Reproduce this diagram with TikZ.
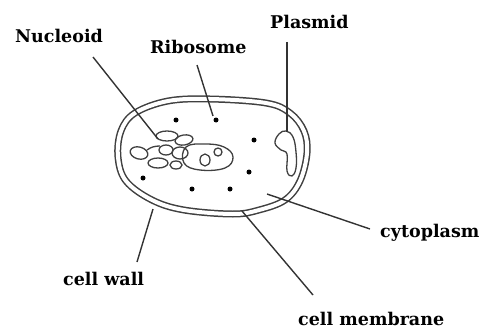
\documentclass[tikz,border=0pt]{standalone}
\usepackage{fontspec}
\newfontfamily\labelfont{DejaVu Serif}
\begin{document}
\begin{tikzpicture}[x=1pt,y=-1pt,
  lbl/.style={anchor=base west,inner sep=0pt,font=\labelfont\bfseries\fontsize{17.5}{17.5}\selectfont},
  leader/.style={draw=black!80,line width=1.4pt},
  envelope/.style={draw=black!75,line width=1.5pt,double=white,double distance=4pt},
  strand/.style={draw=black!75,line width=1.3pt},
  ribo/.style={circle,fill=black,inner sep=0pt,minimum size=5pt}]
\useasboundingbox (0,0) rectangle (489,329);

% cell wall and membrane
\draw[envelope] plot[smooth cycle,tension=0.6] coordinates {
  (135,113) (168,101) (210,99) (266,103) (290,113) (304,131) (307,153)
  (300,181) (285,200) (259,210) (233,214) (184,210) (152,200) (126,181)
  (118,157) (121,131)};

% nucleoid: tangled DNA loops
\draw[strand] (139,153) ellipse[x radius=9,y radius=6,rotate=-15];
\draw[strand] plot[smooth cycle,tension=0.7] coordinates {
  (186,147) (205,144) (224,147) (233,157) (225,168) (200,170) (184,163)};
\draw[strand] (167,136) ellipse[x radius=11,y radius=5];
\draw[strand] (184,140) ellipse[x radius=9,y radius=5,rotate=10];
\draw[strand] (166,150) ellipse[x radius=7,y radius=5];
\draw[strand] (180,153) ellipse[x radius=8,y radius=6];
\draw[strand] (158,163) ellipse[x radius=10,y radius=5];
\draw[strand] (176,165) ellipse[x radius=6,y radius=4];
\draw[strand] (205,160) ellipse[x radius=5,y radius=6];
\draw[strand] (218,152) circle[radius=4];
\draw[strand] (147,150) .. controls (151,147) and (155,146) .. (160,146);

% plasmid
\draw[strand] plot[smooth cycle,tension=0.7] coordinates {
  (279,134) (286,131) (293,137) (296,152) (296,168) (292,176)
  (287,171) (287,154) (281,150) (275,143)};

% ribosomes
\foreach \p/\q [count=\i] in {176/120,216/120,254/140,143/178,249/172,192/189,230/189}
  \node[ribo] (r\i) at (\p,\q) {};

% labels
\node[lbl] (nucleoid) at (15,43) {Nucleoid};
\node[lbl] (ribosome) at (150,53) {Ribosome};
\node[lbl] (plasmid) at (270,29) {Plasmid};
\node[lbl] (cytoplasm) at (380,237) {cytoplasm};
\node[lbl] (wall) at (63,285) {cell wall};
\node[lbl] (membrane) at (298,325) {cell membrane};

% leader line end points
\coordinate (nA) at (93,57);   \coordinate (nB) at (158,139);
\coordinate (rA) at (197,65);  \coordinate (rB) at (213,116);
\coordinate (pA) at (287,42);  \coordinate (pB) at (287,132);
\coordinate (cA) at (370,229); \coordinate (cB) at (267,194);
\coordinate (wA) at (137,262); \coordinate (wB) at (153,209);
\coordinate (mA) at (313,295); \coordinate (mB) at (242,211);

\draw[leader] (nA) -- (nB);
\draw[leader] (rA) -- (rB);
\draw[leader] (pA) -- (pB);
\draw[leader] (cA) -- (cB);
\draw[leader] (wA) -- (wB);
\draw[leader] (mA) -- (mB);
\end{tikzpicture}
\end{document}
